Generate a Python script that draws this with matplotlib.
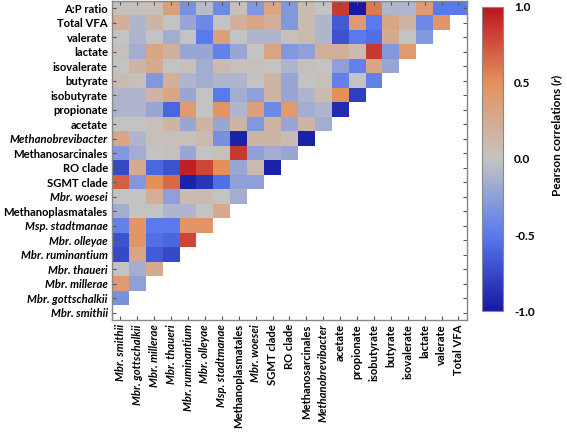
import matplotlib
matplotlib.use('Agg')
import matplotlib.pyplot as plt
from matplotlib.colors import LinearSegmentedColormap
import numpy as np

plt.rcParams['font.family'] = ['Lato', 'DejaVu Sans']

# column variables (left to right)
col_labels = ['Mbr. smithii', 'Mbr. gottschalkii', 'Mbr. millerae', 'Mbr. thaueri',
              'Mbr. ruminantium', 'Mbr. olleyae', 'Msp. stadtmanae', 'Methanoplasmatales',
              'Mbr. woesei', 'SGMT clade', 'RO clade', 'Methanosarcinales',
              'Methanobrevibacter', 'acetate', 'propionate', 'isobutyrate', 'butyrate',
              'isovalerate', 'lactate', 'valerate', 'Total VFA']
# row variables (top to bottom)
row_labels = ['A:P ratio', 'Total VFA', 'valerate', 'lactate', 'isovalerate', 'butyrate',
              'isobutyrate', 'propionate', 'acetate', 'Methanobrevibacter',
              'Methanosarcinales', 'RO clade', 'SGMT clade', 'Mbr. woesei',
              'Methanoplasmatales', 'Msp. stadtmanae', 'Mbr. olleyae', 'Mbr. ruminantium',
              'Mbr. thaueri', 'Mbr. millerae', 'Mbr. gottschalkii', 'Mbr. smithii']
italic_labels = {'Mbr. smithii', 'Mbr. gottschalkii', 'Mbr. millerae', 'Mbr. thaueri',
                 'Mbr. ruminantium', 'Mbr. olleyae', 'Msp. stadtmanae', 'Mbr. woesei',
                 'Methanobrevibacter'}

# Pearson r per row (values for the first columns of each row)
ap_ratio = [0.05, 0.05, 0.05, 0.35, -0.35, -0.05, -0.4, 0.05, -0.3, 0.3, -0.3, 0.1, 0.0,
            0.85, -1.0, 0.6, -0.1, -0.1, 0.4, -0.5, -0.5]
total_vfa = [0.2, -0.1, 0.15, 0.0, -0.2, -0.4, 0.0, 0.2, 0.3, 0.2, -0.3, 0.1, -0.1, -0.65,
             0.4, -0.5, 0.3, 0.15, -0.4, 0.45]
valerate = [0.0, -0.1, 0.0, -0.15, 0.0, -0.5, 0.35, 0.0, -0.1, -0.1, 0.05, 0.1, -0.1, -0.7,
            -0.5, -0.55, 0.25, 0.0, -0.3]
lactate = [0.05, -0.15, 0.3, 0.2, -0.2, -0.2, -0.45, -0.2, 0.0, 0.3, -0.3, -0.25, 0.2, 0.2,
           0.1, 0.85, -0.3, 0.4]
isovalerate = [0.0, 0.15, 0.25, 0.0, 0.05, -0.15, 0.1, 0.05, 0.05, 0.0, -0.1, 0.05, 0.0,
               -0.25, -0.45, 0.3, -0.2]
butyrate = [0.1, 0.05, -0.3, 0.2, -0.1, -0.15, -0.1, -0.1, 0.0, 0.15, -0.2, 0.0, 0.05,
            -0.45, 0.0, -0.45]
isobutyrate = [-0.1, -0.1, 0.15, 0.3, -0.2, 0.0, -0.5, -0.15, -0.25, 0.15, -0.2, -0.1, 0.1,
               0.5, -0.8]
propionate = [-0.1, -0.1, -0.2, -0.6, 0.4, 0.0, 0.45, -0.1, 0.35, -0.4, 0.4, -0.15, -0.1, -0.9]
acetate = [0.0, 0.0, 0.05, 0.15, -0.2, 0.15, -0.2, 0.15, -0.3, 0.15, -0.2, 0.15, -0.15]
methanobrevibacter = [0.3, -0.1, 0.05, 0.05, 0.05, 0.1, -0.35, -0.95, 0.15, 0.15, 0.1, -0.95]
methanosarcinales = [-0.3, -0.15, 0.0, 0.05, -0.2, 0.0, 0.05, 0.85, -0.25, -0.15, -0.2]
ro_clade = [-0.75, 0.25, -0.6, -0.7, 0.95, 0.8, 0.5, -0.2, 0.1, -0.95]
sgmt_clade = [0.7, -0.3, 0.5, 0.65, -0.95, -0.85, -0.55, -0.25, -0.25]
mbr_woesei = [0.0, 0.0, 0.2, -0.25, 0.1, 0.1, 0.0, -0.15]
methanoplasmatales = [-0.15, 0.0, 0.0, -0.1, -0.1, 0.0, 0.25]
msp_stadtmanae = [-0.45, 0.45, -0.5, -0.5, 0.45, 0.45]
mbr_olleyae = [-0.7, 0.45, -0.55, -0.6, 0.8]
mbr_ruminantium = [-0.75, 0.3, -0.65, -0.75]
mbr_thaueri = [0.0, -0.15, 0.25]
mbr_millerae = [0.4, -0.25]
mbr_gottschalkii = [-0.35]
mbr_smithii = []

rows = [ap_ratio, total_vfa, valerate, lactate, isovalerate, butyrate, isobutyrate,
        propionate, acetate, methanobrevibacter, methanosarcinales, ro_clade, sgmt_clade,
        mbr_woesei, methanoplasmatales, msp_stadtmanae, mbr_olleyae, mbr_ruminantium,
        mbr_thaueri, mbr_millerae, mbr_gottschalkii, mbr_smithii]

mat = np.full((len(row_labels), len(col_labels)), np.nan)
for i, vals in enumerate(rows):
    mat[i, :len(vals)] = vals
mat = np.ma.masked_invalid(mat)

cmap = LinearSegmentedColormap.from_list('bgr', [
    (0.0, (0.08, 0.10, 0.63)),
    (0.25, (0.35, 0.48, 0.93)),
    (0.5, (0.77, 0.77, 0.77)),
    (0.75, (0.90, 0.57, 0.36)),
    (1.0, (0.74, 0.08, 0.12)),
])

fig = plt.figure(figsize=(5.67, 4.32), dpi=100)
ax = fig.add_axes([0.1975, 0.2593, 0.626, 0.7384])
im = ax.imshow(mat, cmap=cmap, vmin=-1, vmax=1, aspect='auto', interpolation='nearest')

ax.set_xticks(np.arange(len(col_labels)))
ax.set_yticks(np.arange(len(row_labels)))
ax.set_xticklabels(col_labels, rotation=90)
ax.set_yticklabels(row_labels)
for t in ax.get_xticklabels() + ax.get_yticklabels():
    t.set_fontweight('bold')
    t.set_fontsize(8.1)
    if t.get_text() in italic_labels:
        t.set_fontstyle('italic')
ax.tick_params(direction='in', length=3, width=0.8, color='#555555',
               top=True, right=True, pad=3)
for s in ax.spines.values():
    s.set_color('#888888')
    s.set_linewidth(1.0)

cax = fig.add_axes([0.850, 0.280, 0.037, 0.704])
cb = fig.colorbar(im, cax=cax, ticks=[-1.0, -0.5, 0.0, 0.5, 1.0])
cb.ax.set_yticklabels(['-1.0', '-0.5', '0.0', '0.5', '1.0'])
cb.ax.tick_params(length=0, pad=8)
for t in cb.ax.get_yticklabels():
    t.set_fontweight('bold')
    t.set_fontsize(8.5)
cb.outline.set_edgecolor('#888888')

# colour bar title: bold text with an italic "r", built piece by piece (rotated)
renderer = fig.canvas.get_renderer()
y_px = 432 - 196
parts = [('Pearson correlations (', 'normal'), ('r', 'italic'), (')', 'normal')]
for txt, style in parts:
    t = fig.text(0.982, y_px / 432, txt, rotation=90, ha='center', va='bottom',
                 fontsize=8.5, fontweight='bold', fontstyle=style)
    y_px += t.get_window_extent(renderer).height

fig.savefig('out.png', dpi=100)
